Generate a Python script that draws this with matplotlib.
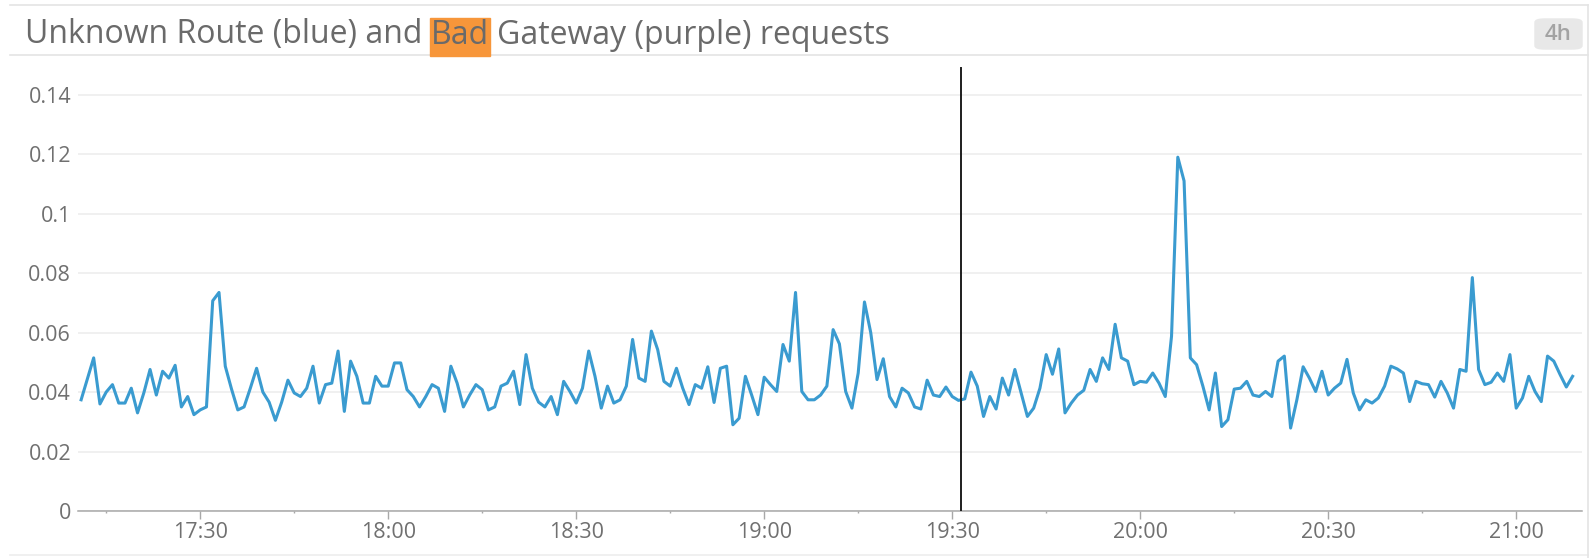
import numpy as np
import pandas as pd
import matplotlib
matplotlib.use("Agg")
import matplotlib.pyplot as plt
import matplotlib.dates as mdates
from matplotlib.lines import Line2D
from matplotlib.patches import Rectangle, FancyBboxPatch

# one sample per minute, first sample at 17:11
start_time = "2020-01-01 17:11"
sample_freq = "1min"
x_min = "2020-01-01 17:10:30"
x_max = "2020-01-01 21:10:30"
cursor_time = "2020-01-01 19:31:24"

unknown_route = [
    0.0374, 0.0445, 0.0515, 0.0360, 0.0400, 0.0425, 0.0363, 0.0363, 0.0413, 0.0330,
    0.0397, 0.0476, 0.0390, 0.0470, 0.0447, 0.0490, 0.0350, 0.0385, 0.0324, 0.0340,
    0.0350, 0.0707, 0.0735, 0.0487, 0.0410, 0.0340, 0.0350, 0.0413, 0.0480, 0.0400,
    0.0366, 0.0305, 0.0366, 0.0440, 0.0397, 0.0385, 0.0413, 0.0487, 0.0363, 0.0425,
    0.0430, 0.0538, 0.0335, 0.0504, 0.0453, 0.0363, 0.0363, 0.0453, 0.0420, 0.0420,
    0.0498, 0.0498, 0.0408, 0.0385, 0.0350, 0.0385, 0.0425, 0.0413, 0.0335, 0.0487,
    0.0430, 0.0350, 0.0390, 0.0425, 0.0408, 0.0340, 0.0350, 0.0420, 0.0430, 0.0470,
    0.0358, 0.0526, 0.0413, 0.0366, 0.0350, 0.0385, 0.0324, 0.0436, 0.0402, 0.0363,
    0.0413, 0.0538, 0.0453, 0.0346, 0.0420, 0.0363, 0.0374, 0.0420, 0.0577, 0.0447,
    0.0436, 0.0605, 0.0543, 0.0436, 0.0420, 0.0480, 0.0413, 0.0358, 0.0425, 0.0413,
    0.0485, 0.0365, 0.0480, 0.0487, 0.0290, 0.0312, 0.0453, 0.0390, 0.0324, 0.0450,
    0.0425, 0.0402, 0.0560, 0.0504, 0.0735, 0.0402, 0.0374, 0.0374, 0.0390, 0.0420,
    0.0610, 0.0562, 0.0402, 0.0346, 0.0464, 0.0703, 0.0600, 0.0442, 0.0512, 0.0385,
    0.0350, 0.0413, 0.0397, 0.0350, 0.0343, 0.0440, 0.0390, 0.0385, 0.0417, 0.0385,
    0.0372, 0.0377, 0.0467, 0.0420, 0.0318, 0.0385, 0.0343, 0.0447, 0.0390, 0.0476,
    0.0397, 0.0318, 0.0346, 0.0413, 0.0526, 0.0460, 0.0545, 0.0330, 0.0363, 0.0390,
    0.0406, 0.0476, 0.0436, 0.0515, 0.0476, 0.0628, 0.0515, 0.0504, 0.0425, 0.0436,
    0.0433, 0.0464, 0.0430, 0.0385, 0.0588, 0.1190, 0.1110, 0.0515, 0.0492, 0.0420,
    0.0340, 0.0464, 0.0284, 0.0307, 0.0410, 0.0413, 0.0436, 0.0390, 0.0385, 0.0402,
    0.0385, 0.0504, 0.0521, 0.0279, 0.0374, 0.0485, 0.0447, 0.0402, 0.0470, 0.0390,
    0.0413, 0.0430, 0.0510, 0.0397, 0.0340, 0.0374, 0.0363, 0.0380, 0.0420, 0.0487,
    0.0478, 0.0464, 0.0368, 0.0436, 0.0428, 0.0425, 0.0383, 0.0436, 0.0397, 0.0346,
    0.0476, 0.0470, 0.0785, 0.0476, 0.0425, 0.0433, 0.0464, 0.0436, 0.0526, 0.0346,
    0.0380, 0.0453, 0.0402, 0.0368, 0.0521, 0.0504, 0.0459, 0.0417, 0.0453,
]
y_ticks = [0, 0.02, 0.04, 0.06, 0.08, 0.1, 0.12, 0.14]
y_tick_labels = ["0", "0.02", "0.04", "0.06", "0.08", "0.1", "0.12", "0.14"]

title_parts = ["Unknown Route (blue) and", "Bad", "Gateway (purple) requests"]
range_label = "4h"

W, H = 1594, 558
DPI = 100
FONT = "Open Sans"
TEXT_GRAY = "#6a6a6a"
TICK_GRAY = "#707070"
LINE_BLUE = "#3a9bd0"

times = pd.date_range(start_time, periods=len(unknown_route), freq=sample_freq)

fig = plt.figure(figsize=(W / DPI, H / DPI), dpi=DPI)
fig.patch.set_facecolor("white")

# axes placed in pixel terms (y from the top of the image)
ax_left, ax_right, ax_top, ax_bottom = 78, 1582, 65, 511
ax = fig.add_axes([ax_left / W, 1 - ax_bottom / H,
                   (ax_right - ax_left) / W, (ax_bottom - ax_top) / H])

ax.plot(times, unknown_route, color=LINE_BLUE, lw=2.2, zorder=3)
ax.axvline(pd.Timestamp(cursor_time), ymax=0.993, color="#1e1e1e", lw=1.4, zorder=4)

ax.set_xlim(pd.Timestamp(x_min), pd.Timestamp(x_max))
ax.set_ylim(0, 0.15)
ax.set_yticks(y_ticks)
ax.set_yticklabels(y_tick_labels)
ax.grid(axis="y", color="#ececec", lw=1.1)
ax.set_axisbelow(True)

for s in ["top", "right", "left"]:
    ax.spines[s].set_visible(False)
ax.spines["bottom"].set_color("#a8a8a8")
ax.spines["bottom"].set_linewidth(1.1)

ax.xaxis.set_major_locator(mdates.MinuteLocator(byminute=[0, 30]))
ax.xaxis.set_minor_locator(mdates.MinuteLocator(byminute=[15, 45]))
ax.xaxis.set_major_formatter(mdates.DateFormatter("%H:%M"))
ax.tick_params(axis="x", which="major", length=6, width=1, color="#a8a8a8", pad=2,
               labelsize=15.5, labelcolor=TICK_GRAY)
ax.tick_params(axis="x", which="minor", length=1.5, width=1, color="#a8a8a8")
ax.tick_params(axis="y", length=0, pad=5, labelsize=15.5, labelcolor=TICK_GRAY)
for lab in ax.get_xticklabels() + ax.get_yticklabels():
    lab.set_fontfamily(FONT)

# frame lines of the widget
def hline(y, x0, x1, color="#e4e4e4", lw=1.2):
    fig.add_artist(Line2D([x0 / W, x1 / W], [1 - y / H, 1 - y / H], color=color, lw=lw))

hline(5, 10, 1588)
hline(55, 10, 1588)
hline(555, 10, 1588, color="#ededed")
fig.add_artist(Line2D([1588 / W, 1588 / W], [0, 1 - 5 / H], color="#e4e4e4", lw=1.2))

# title with highlighted word
renderer = fig.canvas.get_renderer()
title_y = 1 - 35 / H
title_size = 23
space = 0.26 * title_size * DPI / 72
x = 25
for i, part in enumerate(title_parts):
    t = fig.text(x / W, title_y, part, fontsize=title_size, family=FONT,
                 color=TEXT_GRAY, va="center", ha="left", zorder=3)
    bb = t.get_window_extent(renderer)
    if part == "Bad":
        fig.add_artist(Rectangle((bb.x0 / W - 1 / W, 1 - 56 / H), (bb.width + 2) / W, 38 / H,
                                 transform=fig.transFigure, color="#f7963a", zorder=2))
    x = bb.x1 + space

# time range badge
fig.add_artist(FancyBboxPatch((1535 / W, 1 - 49 / H), 47 / W, 30 / H,
                              boxstyle="round,pad=0,rounding_size=0.006",
                              transform=fig.transFigure, color="#e8e8e8"))
fig.text(1558.5 / W, 1 - 34 / H, range_label, fontsize=16, family=FONT, weight="semibold",
         color="#a3a3a3", ha="center", va="center")

fig.savefig("out.png", dpi=DPI)
